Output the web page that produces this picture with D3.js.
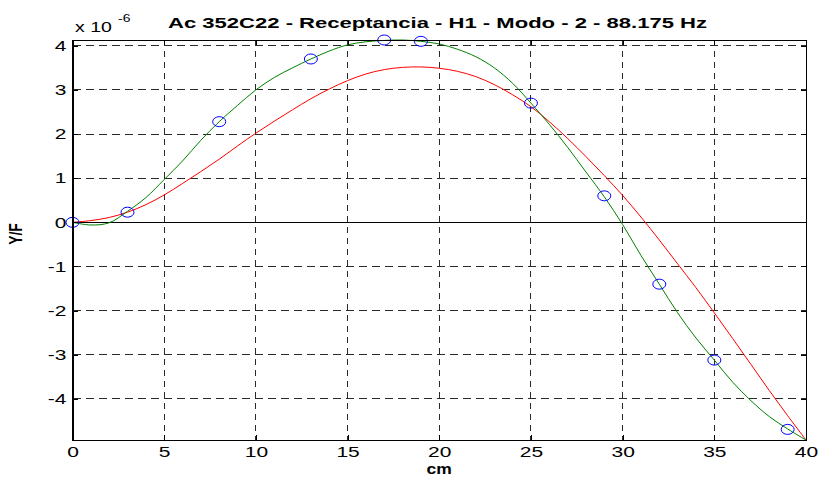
<!DOCTYPE html>
<html>
<head>
<meta charset="utf-8">
<script src="https://cdn.jsdelivr.net/npm/d3@7"></script>
<style>
  html, body { margin: 0; padding: 0; background: #fff; }
  svg { display: block; }
  text { font-family: "Liberation Sans", Arial, Helvetica, sans-serif; fill: #000; }
</style>
</head>
<body>
<svg id="chart" width="819" height="478"></svg>
<script>
// ---- data (values in units of 1e-6) ----
const titleText = "Ac 352C22 - Receptancia - H1 - Modo - 2 - 88.175 Hz";
const xLabel = "cm";
const yLabel = "Y/F";
const xTicks = [0, 5, 10, 15, 20, 25, 30, 35, 40];
const yTicks = [-4, -3, -2, -1, 0, 1, 2, 3, 4];

const measX = [0, 3, 8, 13, 17, 19, 25, 29, 32, 35, 39];
const measY = [0, 0.23, 2.28, 3.70, 4.13, 4.10, 2.70, 0.60, -1.40, -3.12, -4.69];

const curveX = [0, 1, 2, 3, 4, 5, 6, 7, 8, 9, 10, 11, 12, 13, 14, 15, 16, 17, 18, 19, 20,
                21, 22, 23, 24, 25, 26, 27, 28, 29, 30, 31, 32, 33, 34, 35, 36, 37, 38, 39, 40];
const greenY = [0, -0.06, -0.01, 0.25, 0.56, 0.97, 1.39, 1.86, 2.28, 2.65, 3.00,
                3.28, 3.50, 3.70, 3.88, 4.02, 4.09, 4.12, 4.13, 4.10, 4.04,
                3.92, 3.75, 3.50, 3.15, 2.70, 2.22, 1.70, 1.14, 0.58, -0.05,
                -0.75, -1.40, -2.05, -2.62, -3.12, -3.62, -4.04, -4.40, -4.68, -4.93];
const redY = [0, 0.04, 0.11, 0.23, 0.40, 0.62, 0.88, 1.15, 1.43, 1.73, 2.02,
              2.29, 2.55, 2.80, 3.02, 3.21, 3.36, 3.46, 3.51, 3.52, 3.49,
              3.42, 3.30, 3.12, 2.89, 2.62, 2.28, 1.90, 1.49, 1.06, 0.61,
              0.12, -0.40, -0.94, -1.48, -2.05, -2.63, -3.22, -3.81, -4.38, -4.93];
const xDomain = [0, 40];
const yDomain = [-4.93, 4.13];

// ---- layout ----
const L = 72.5, R = 806, T = 40, B = 440;
const SX = 1.4; // horizontal text stretch of the reference

const svg = d3.select("#chart");
const x = d3.scaleLinear().domain(xDomain).range([L, R]);
const y = d3.scaleLinear().domain(yDomain).range([B, T]);

function stretch(sel, sx) {
  sel.each(function () {
    const t = d3.select(this);
    const tx = +t.attr("x") || 0;
    t.attr("transform", `translate(${tx * (1 - sx)},0) scale(${sx},1)`);
  });
}

// grid
const grid = svg.append("g").attr("shape-rendering", "crispEdges");
grid.selectAll("line.vx").data(xTicks.filter(d => d > xDomain[0] && d < xDomain[1]))
  .join("line").attr("class", "vx")
  .attr("x1", d => x(d)).attr("x2", d => x(d)).attr("y1", T).attr("y2", B)
  .attr("stroke", "#2a2a2a").attr("stroke-width", 1).attr("stroke-dasharray", "6,5");
grid.selectAll("line.hy").data(yTicks)
  .join("line").attr("class", "hy")
  .attr("x1", L).attr("x2", R).attr("y1", d => y(d)).attr("y2", d => y(d))
  .attr("stroke", "#2a2a2a").attr("stroke-width", 1).attr("stroke-dasharray", "8,5");

// zero line
svg.append("line").attr("x1", x(xDomain[0])).attr("x2", x(xDomain[1]))
  .attr("y1", y(0)).attr("y2", y(0)).attr("stroke", "#000").attr("stroke-width", 1)
  .attr("shape-rendering", "crispEdges");

// curves
const line = d3.line().x(d => x(d[0])).y(d => y(d[1])).curve(d3.curveCatmullRom.alpha(0.5));
svg.append("path").datum(curveX.map((v, i) => [v, redY[i]]))
  .attr("d", line).attr("fill", "none").attr("stroke", "#ff0000").attr("stroke-width", 1);
svg.append("path").datum(curveX.map((v, i) => [v, greenY[i]]))
  .attr("d", line).attr("fill", "none").attr("stroke", "#008000").attr("stroke-width", 1);

// markers
svg.selectAll("ellipse.m").data(measX.map((v, i) => [v, measY[i]]))
  .join("ellipse").attr("class", "m")
  .attr("cx", d => x(d[0])).attr("cy", d => y(d[1]))
  .attr("rx", 6.5).attr("ry", 5)
  .attr("fill", "none").attr("stroke", "#0000ff").attr("stroke-width", 1);

// axes
const fs = "15px";
const gB = svg.append("g").attr("transform", `translate(0,${B})`)
  .call(d3.axisBottom(x).tickValues(xTicks).tickSize(-5).tickPadding(6).tickFormat(d3.format("d")));
const gL = svg.append("g").attr("transform", `translate(${L},0)`)
  .call(d3.axisLeft(y).tickValues(yTicks).tickSize(-5).tickPadding(6).tickFormat(d3.format("d")));
const gT = svg.append("g").attr("transform", `translate(0,${T})`)
  .call(d3.axisTop(x).tickValues(xTicks).tickSize(-5).tickFormat(""));
const gR = svg.append("g").attr("transform", `translate(${R},0)`)
  .call(d3.axisRight(y).tickValues(yTicks).tickSize(-5).tickFormat(""));
[gB, gL, gT, gR].forEach(g => {
  g.attr("shape-rendering", "crispEdges");
  g.select(".domain").attr("stroke", "#000").attr("stroke-width", 1.3);
  g.selectAll(".tick line").attr("stroke", "#000");
  g.selectAll("text").attr("font-size", fs).attr("font-family", "Liberation Sans, Arial, sans-serif").attr("fill", "#000");
});
gL.selectAll("text").text(d => d < 0 ? "-" + Math.abs(d) : String(d));
stretch(gB.selectAll("text"), SX);
stretch(gL.selectAll("text"), SX);

// title
svg.append("text").attr("x", 437.5).attr("y", 28).attr("text-anchor", "middle")
  .attr("font-size", "15px").attr("font-weight", "bold")
  .attr("textLength", 539).attr("lengthAdjust", "spacingAndGlyphs")
  .text(titleText);

// exponent
const ex = svg.append("text").attr("x", 75).attr("y", 32).attr("font-size", "15px").text("x 10");
stretch(ex, 1.3);
const ex2 = svg.append("text").attr("x", 118).attr("y", 22).attr("font-size", "10px").text("-6");
stretch(ex2, SX);

// axis labels
const xl = svg.append("text").attr("x", (L + R) / 2).attr("y", 474).attr("text-anchor", "middle")
  .attr("font-size", "14px").attr("font-weight", "bold").text(xLabel);
stretch(xl, 1.25);
svg.append("g").attr("transform", `translate(22,${(T + B) / 2 - 6}) rotate(-90)`)
  .append("text").attr("text-anchor", "middle").attr("font-size", "14px").attr("font-weight", "bold")
  .attr("transform", "scale(1,1.3)")
  .text(yLabel);
</script>
</body>
</html>
